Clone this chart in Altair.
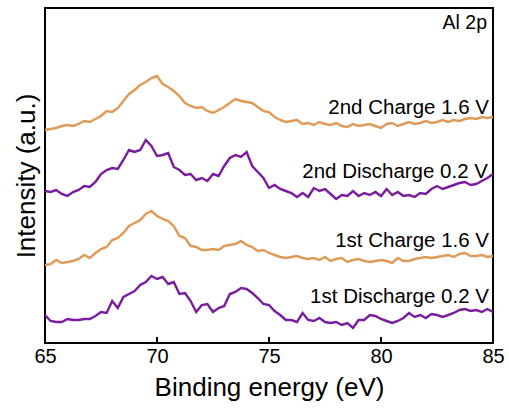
import altair as alt
import pandas as pd

# Binding energy grid (eV)
energy = [65 + 0.25 * i for i in range(81)]

series_names = ["2nd Charge 1.6 V", "2nd Discharge 0.2 V", "1st Charge 1.6 V", "1st Discharge 0.2 V"]

charge2 = [213, 214, 215, 217, 218, 217, 219, 222, 221, 224, 227, 232, 231, 235, 242, 249, 253, 258, 261, 265,
           267, 259, 256, 252, 247, 240, 237, 235, 236, 232, 230, 233, 236, 240, 244, 242, 241, 240, 236, 232,
           231, 226, 223, 221, 222, 223, 219, 220, 218, 221, 219, 218, 220, 217, 216, 219, 217, 218, 219, 217,
           215, 219, 220, 217, 219, 221, 219, 220, 222, 220, 221, 223, 221, 223, 222, 224, 225, 224, 226, 225,
           226]

discharge2 = [152, 151, 153, 149, 147, 151, 153, 157, 156, 161, 169, 173, 175, 174, 183, 193, 191, 193, 203, 197,
              187, 188, 190, 176, 173, 168, 169, 163, 165, 162, 169, 167, 177, 185, 188, 186, 191, 177, 171, 165,
              155, 158, 154, 152, 150, 146, 150, 146, 155, 152, 154, 149, 144, 148, 147, 152, 147, 150, 148, 151,
              147, 154, 148, 151, 147, 148, 146, 150, 149, 154, 157, 154, 156, 158, 160, 161, 158, 159, 162, 165,
              169]

charge1 = [78, 79, 83, 80, 81, 82, 84, 88, 85, 90, 94, 96, 103, 105, 110, 117, 120, 123, 129, 132,
           127, 124, 122, 117, 107, 105, 97, 96, 93, 93, 94, 93, 97, 98, 99, 102, 98, 96, 92, 93,
           90, 88, 86, 85, 86, 87, 85, 84, 85, 83, 86, 82, 84, 85, 81, 83, 84, 82, 81, 82,
           83, 82, 80, 85, 82, 82, 84, 85, 86, 85, 86, 87, 88, 86, 89, 90, 87, 87, 88, 86,
           87]

discharge1 = [28, 22, 21, 21, 24, 23, 23, 24, 24, 27, 31, 30, 42, 35, 46, 49, 52, 58, 61, 67,
              64, 66, 59, 61, 49, 50, 42, 31, 38, 39, 31, 35, 37, 49, 51, 55, 54, 50, 45, 39,
              38, 32, 28, 23, 23, 21, 30, 23, 22, 25, 21, 20, 21, 18, 20, 15, 23, 23, 28, 27,
              24, 22, 20, 22, 25, 30, 26, 28, 25, 29, 28, 26, 28, 30, 33, 34, 32, 33, 31, 34,
              31]

x_ticks = [65, 70, 75, 80, 85]
inner_ticks = [70, 75, 80]

series_values = [charge2, discharge2, charge1, discharge1]
for s in series_values:
    assert len(s) == len(energy)

rows = []
for name, vals in zip(series_names, series_values):
    for e, v in zip(energy, vals):
        rows.append({"energy": e, "intensity": v, "series": name})
df = pd.DataFrame(rows)

FONT = "Liberation Sans"
colors = ["#DF9A58", "#7A1C9E", "#DF9A58", "#7A1C9E"]

x_scale = alt.Scale(domain=[65, 85], nice=False)
y_scale = alt.Scale(domain=[0, 335], nice=False)

lines = alt.Chart(df).mark_line(strokeWidth=2.4, clip=True).encode(
    x=alt.X("energy:Q", scale=x_scale,
            axis=alt.Axis(values=x_ticks, title="Binding energy (eV)", grid=False, ticks=False,
                          domain=False, labelFontSize=20, labelColor="black", labelPadding=3,
                          labelFont=FONT, titleFont=FONT, titleFontSize=26, titleFontWeight="normal",
                          titleColor="black", titlePadding=8, labelFlush=False)),
    y=alt.Y("intensity:Q", scale=y_scale,
            axis=alt.Axis(labels=False, ticks=False, grid=False, domain=False,
                          title="Intensity (a.u.)", titleFont=FONT, titleFontSize=26,
                          titleFontWeight="normal", titleColor="black", titlePadding=6)),
    color=alt.Color("series:N", scale=alt.Scale(domain=series_names, range=colors), legend=None),
    detail="series:N",
)

tick_df = pd.DataFrame({"energy": inner_ticks})
ticks = alt.Chart(tick_df).mark_rule(color="black", strokeWidth=2).encode(
    x=alt.X("energy:Q", scale=x_scale),
    y=alt.value(335),
    y2=alt.value(329),
)

label_texts = ["Al 2p"] + series_names
label_pos = [(442, 21, 19.5), (444, 106, 20.5), (443, 170, 20.5), (444, 239, 20.5), (444, 295, 20.5)]

layers = [lines, ticks]
for txt, (px, py, fs) in zip(label_texts, label_pos):
    layers.append(
        alt.Chart(pd.DataFrame({"t": [txt]})).mark_text(
            align="right", baseline="alphabetic", font=FONT, fontSize=fs, color="black"
        ).encode(text="t:N", x=alt.value(px), y=alt.value(py))
    )

chart = alt.layer(*layers).properties(
    width=448, height=335,
    autosize=alt.AutoSizeParams(type="none"),
    padding={"left": 45, "top": 8, "right": 16, "bottom": 71},
).configure_view(stroke="black", strokeWidth=2)

chart.save("out.html", embed_options={"renderer": "svg", "actions": False})
